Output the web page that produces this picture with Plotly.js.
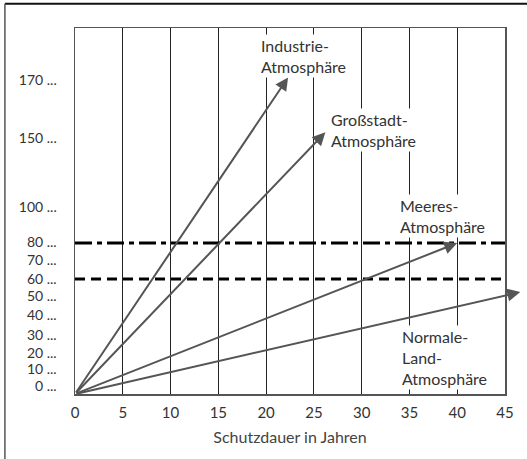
<!DOCTYPE html>
<html><head><meta charset="utf-8">
<script src="https://cdn.plot.ly/plotly-3.0.1.min.js"></script>
<style>body{margin:0;background:#fff}#c{width:527px;height:459px}</style>
</head><body><div id="c"></div>
<script>
// y axis is a schematic (non-linear) scale: positions on the drawn scale + their labels
const yTickPos   = [4.5, 13.4, 22.6, 32.2, 43, 53.5, 62.8, 73, 83, 102, 140, 171.5];
const yTickText  = ["0 ...","10 ...","20 ...","30 ...","40 ...","50 ...","60 ...","70 ...","80 ...","100 ...","150 ...","170 ..."];
const xTicks     = [0,5,10,15,20,25,30,35,40,45];

// arrows (start at origin) : end points in years / scale position
const seriesNames = ["Industrie-<br>Atmosphäre","Großstadt-<br>Atmosphäre","Meeres-<br>Atmosphäre","Normale-<br>Land-<br>Atmosphäre"];
const endYears    = [22.3, 26.2, 40.0, 46.6];
const endScale    = [173, 143, 82.5, 55.7];
const labelYears  = [19.3, 26.6, 33.8, 34.0];
const labelScale  = [184.5, 144.5, 97, 20];

// horizontal limit lines
const limitScale  = [82.5, 62.8];
const limitDash   = ["17px,5px,5px,5px","10px,6px"];

const traces = limitScale.map((v,i)=>({
  x:[0,45], y:[v,v], mode:'lines', hoverinfo:'skip', showlegend:false,
  line:{color:'#000', width:3, dash:limitDash[i]}
}));

const ann = [];
seriesNames.forEach((n,i)=>{
  ann.push({x:endYears[i], y:endScale[i], ax:0, ay:0, xref:'x', yref:'y', axref:'x', ayref:'y',
    text:'', showarrow:true, arrowhead:2, arrowsize:1.3, arrowwidth:2, arrowcolor:'#555', standoff:0, startstandoff:0});
});
seriesNames.forEach((n,i)=>{
  ann.push({x:labelYears[i], y:labelScale[i], xref:'x', yref:'y', text:n, showarrow:false,
    xanchor:'left', yanchor:'middle', align:'left', bgcolor:'#fff', borderpad:1,
    font:{family:'Lato, "Open Sans", sans-serif', size:16, color:'#333'}});
});

const layout = {
  width:527, height:459, margin:{l:75, r:22, t:28, b:65},
  paper_bgcolor:'#fff', plot_bgcolor:'#fff', showlegend:false,
  font:{family:'Lato, "Open Sans", sans-serif', size:15, color:'#333'},
  xaxis:{range:[0,45], tickvals:xTicks, ticktext:xTicks.map(String), showgrid:true, gridcolor:'#222', gridwidth:1.2,
    zeroline:false, showline:true, mirror:true, linecolor:'#555', linewidth:1.5, ticks:'', ticklabelstandoff:4,
    tickfont:{size:15, color:'#333'},
    title:{text:'Schutzdauer in Jahren', font:{size:16, color:'#444'}, standoff:12}},
  yaxis:{range:[0,200], tickvals:yTickPos, ticktext:yTickText, showgrid:false, zeroline:false,
    showline:true, mirror:true, linecolor:'#555', linewidth:1.5, ticks:'', ticklabelstandoff:14,
    tickfont:{size:14, color:'#333'}},
  annotations:ann,
  shapes:[
    {type:'line', xref:'paper', yref:'paper', x0:-0.163, x1:1.1, y0:1.066, y1:1.066, line:{color:'#111', width:2}},
    {type:'line', xref:'paper', yref:'paper', x0:-0.163, x1:-0.163, y0:1.066, y1:-0.2, line:{color:'#555', width:1.5}}
  ]
};
Plotly.newPlot('c', traces, layout, {staticPlot:true, displayModeBar:false});
</script></body></html>
